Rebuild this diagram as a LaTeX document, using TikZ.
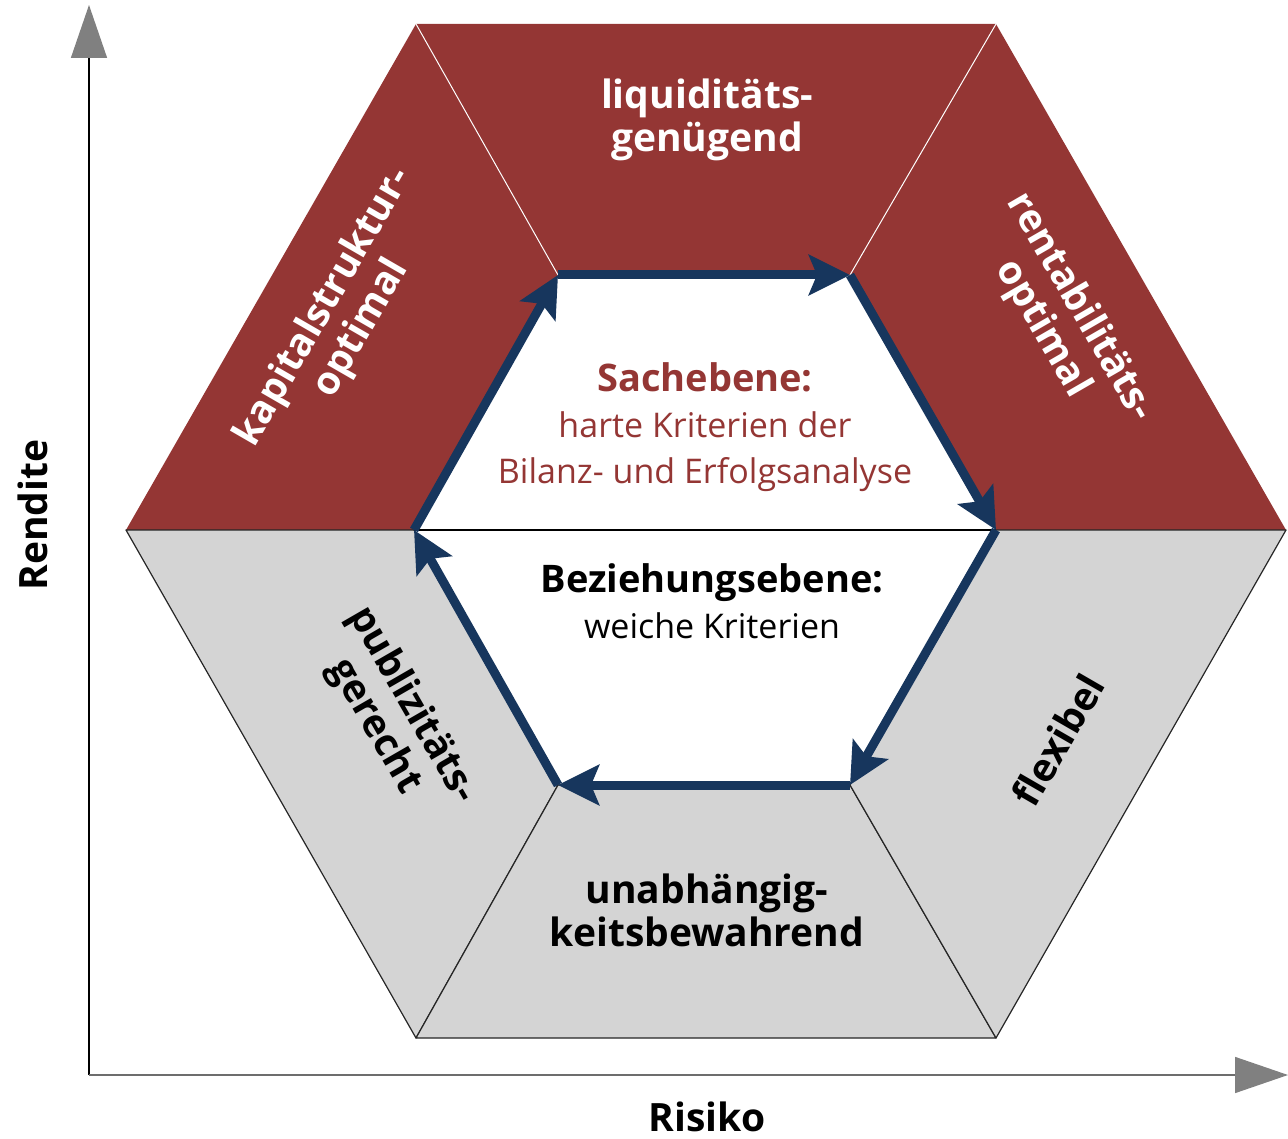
\documentclass[tikz,border=0pt]{standalone}
\usepackage{fontspec}
\setmainfont{Open Sans}
\usetikzlibrary{arrows.meta}
\definecolor{hexred}{RGB}{148,54,52}
\definecolor{hexgray}{RGB}{212,212,212}
\definecolor{navy}{RGB}{23,54,93}
\definecolor{axisgray}{RGB}{128,128,128}
\newcommand{\headline}[1]{{\fontsize{38}{46}\selectfont\bfseries #1}}
\tikzset{
  field/.style={font=\fontsize{39}{43}\selectfont\bfseries, align=center},
  inner/.style={font=\fontsize{34}{46}\selectfont, align=center},
  flow/.style={navy, line width=9pt, -{Stealth[length=41pt,width=40pt,inset=8pt]}},
  axis/.style={line width=1.5pt, -{Triangle[length=53pt,width=36pt,color=axisgray]}},
}

\begin{document}
\begin{tikzpicture}[x=1pt,y=-1pt]
  \useasboundingbox (0,0) rectangle (1288,1139);
  % corners of both hexagons
  \foreach \n/\x/\y in {o1/416/24, o2/996/24, o3/1286/530, o4/996/1038, o5/416/1038, o6/126/530,
                        i1/558/275, i2/850/275, i3/996/530, i4/850/785, i5/558/785, i6/414/530}
    \coordinate (\n) at (\x,\y);
  \coordinate (origin) at (89,1075);
  \coordinate (ytop) at (89,5);
  \coordinate (xend) at (1288,1075);

  % axes
  \draw[axis, black] (origin) -- (ytop);
  \draw[axis, axisgray!85!black] (origin) -- (xend);

  % upper half
  \fill[hexred] (o6) -- (o1) -- (o2) -- (o3) -- (i3) -- (i2) -- (i1) -- (i6) -- cycle;
  \draw[white, line width=1pt] (o1) -- (i1) (o2) -- (i2);
  % lower half
  \foreach \a/\b/\c/\d in {o6/i6/i5/o5, i5/i4/o4/o5, i3/o3/o4/i4}
    \filldraw[fill=hexgray, draw=black!85, line width=1.2pt, line join=round] (\a) -- (\b) -- (\c) -- (\d) -- cycle;
  \draw[black, line width=1.2pt] (i6) -- (i3);

  % the cycle round the inner hexagon
  \foreach \a/\b in {i6/i1, i1/i2, i2/i3, i3/i4, i4/i5, i5/i6}
    \draw[flow] (\a) -- (\b);

  \node[field, white] (liqu) at (707,120) {liquiditäts-\\genügend};
  \node[field, white, rotate=60] (kapital) at (343,318) {kapitalstruktur-\\optimal};
  \node[field, white, rotate=-60] (rentab) at (1061,318) {rentabilitäts-\\optimal};
  \node[field, rotate=-60] (publ) at (393,716) {publizitäts-\\gerecht};
  \node[field, rotate=60] (flex) at (1058,740) {flexibel};
  \node[field] (unabh) at (707,910) {unabhängig-\\keitsbewahrend};

  \node[inner, hexred] (sach) at (705,427) {\headline{Sachebene:}\\harte Kriterien der\\Bilanz- und Erfolgsanalyse};
  \node[inner] (bez) at (712,601) {\headline{Beziehungsebene:}\\weiche Kriterien};

  \node[field, rotate=90] (rendite) at (33,515) {Rendite};
  \node[field] (risiko) at (707,1117) {Risiko};
\end{tikzpicture}
\end{document}
